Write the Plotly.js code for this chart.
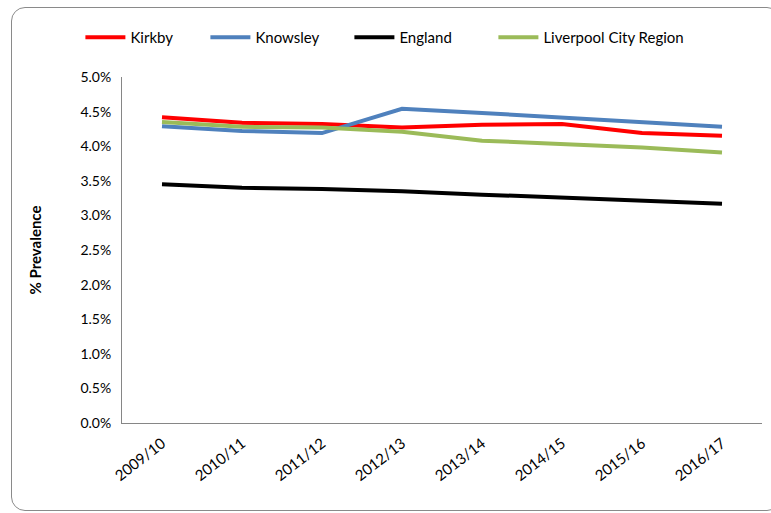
<!DOCTYPE html>
<html>
<head>
<meta charset="utf-8">
<script src="https://cdn.plot.ly/plotly-3.0.1.min.js"></script>
<style>
html,body{margin:0;padding:0;background:#fff;width:771px;height:513px;overflow:hidden;}
#frame{position:absolute;left:11px;top:7px;width:770px;height:504px;border:1.5px solid #8a8a8a;border-radius:14px;box-sizing:border-box;}
#chart{position:absolute;left:0;top:0;width:771px;height:513px;}
</style>
</head>
<body>
<div id="frame"></div>
<div id="chart"></div>
<script>
const years = ["2009/10","2010/11","2011/12","2012/13","2013/14","2014/15","2015/16","2016/17"];
const kirkby   = [0.0442,0.0434,0.0432,0.0427,0.0431,0.0432,0.0419,0.0415];
const knowsley = [0.0429,0.0422,0.0419,0.0454,0.0448,0.0441,0.0434,0.0428];
const england  = [0.0345,0.0340,0.0338,0.0335,0.0330,0.0326,0.0321,0.0317];
const lcr      = [0.0435,0.0428,0.0427,0.0421,0.0408,0.0403,0.0398,0.0391];
const names = ["Kirkby","Knowsley","England","Liverpool City Region"];
const colors = ["#ff0000","#4f81bd","#000000","#9bbb59"];
const series = [kirkby, knowsley, england, lcr];
const entryW = [70, 89, 89, 200];

const traces = series.map((s,i)=>({
  x: years, y: s, name: names[i], type:"scatter", mode:"lines",
  line:{color:colors[i], width:4}, legendwidth: entryW[i]
}));

const layout = {
  width:771, height:513,
  margin:{l:122, r:9, t:77, b:90},
  paper_bgcolor:"rgba(0,0,0,0)", plot_bgcolor:"rgba(0,0,0,0)",
  font:{family:"Lato, 'Open Sans', sans-serif", size:13, color:"#000"},
  showlegend:true,
  legend:{orientation:"h", x:-0.065, xanchor:"left", y:1.114, yanchor:"middle",
          font:{size:15}, itemwidth:40, tracegroupgap:0},
  xaxis:{type:"category", range:[-0.5,7.5], showline:true, linecolor:"#868686", linewidth:1,
         ticks:"", tickangle:-38, showgrid:false, zeroline:false, tickfont:{size:15}, ticklabelstandoff:5},
  yaxis:{range:[0,0.05], dtick:0.005, tickformat:".1%", showline:true, linecolor:"#868686", linewidth:1,
         ticks:"", showgrid:false, zeroline:false, tickfont:{size:14}, ticklabelstandoff:7,
         title:{text:"<b>% Prevalence</b>", font:{size:15}, standoff:35}}
};
Plotly.newPlot("chart", traces, layout, {displayModeBar:false, staticPlot:true});
</script>
</body>
</html>
